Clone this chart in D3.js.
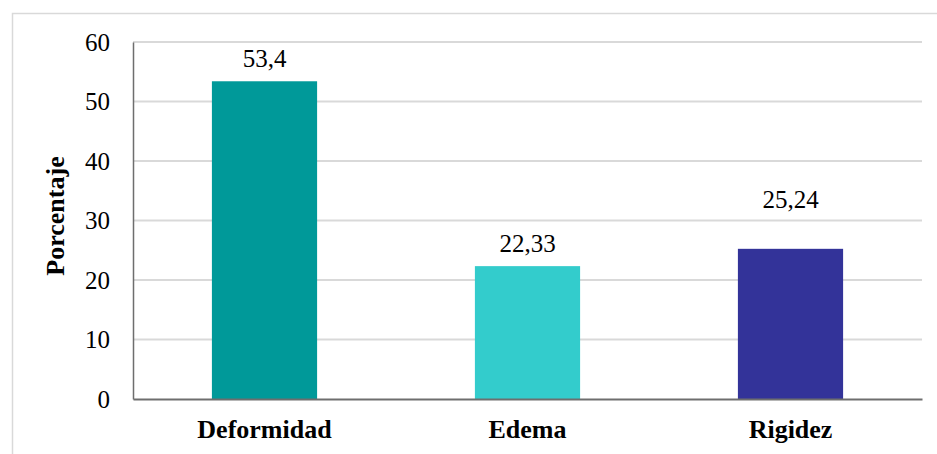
<!DOCTYPE html>
<html>
<head>
<meta charset="utf-8">
<script src="https://cdn.jsdelivr.net/npm/d3@7/dist/d3.min.js"></script>
<style>
  html, body { margin: 0; padding: 0; background: #fff; }
  svg { display: block; }
</style>
</head>
<body>
<svg id="chart" width="937" height="454"></svg>
<script>
// Síntomas articulares: porcentaje por categoría
const categories = ["Deformidad", "Edema", "Rigidez"];
const values = [53.4, 22.33, 25.24];
const valueLabels = ["53,4", "22,33", "25,24"];
const colors = ["#009999", "#33CCCC", "#333399"];
const yTicks = [0, 10, 20, 30, 40, 50, 60];

const FONT = "'Liberation Serif', 'Times New Roman', serif";

const svg = d3.select("#chart").style("font-family", FONT);
const margin = { left: 133, top: 42 };
const plotRight = 922;
const plotBottom = 399;
// distance from bar top to label baseline (the last label sits higher)
const labelGap = { Deformidad: 14, Edema: 14, Rigidez: 41 };

// outer frame of the chart
svg.append("rect")
  .attr("x", 12.5).attr("y", 13.5)
  .attr("width", 940).attr("height", 460)
  .attr("fill", "none").attr("stroke", "#d9d9d9").attr("stroke-width", 1.5);

const x = d3.scaleBand()
  .domain(categories)
  .range([margin.left, plotRight])
  .paddingInner(0.6).paddingOuter(0.3);

const y = d3.scaleLinear().domain([0, 60]).range([plotBottom, margin.top]);

// horizontal gridlines
svg.append("g")
  .selectAll("line")
  .data(yTicks.filter(t => t > 0))
  .join("line")
  .attr("x1", margin.left).attr("x2", plotRight)
  .attr("y1", d => y(d)).attr("y2", d => y(d))
  .attr("stroke", "#d9d9d9").attr("stroke-width", 2);

// bars
svg.append("g")
  .selectAll("rect")
  .data(values)
  .join("rect")
  .attr("x", (d, i) => x(categories[i]))
  .attr("width", x.bandwidth())
  .attr("y", d => y(d))
  .attr("height", d => y(0) - y(d))
  .attr("fill", (d, i) => colors[i]);

// value labels
svg.append("g")
  .selectAll("text")
  .data(values)
  .join("text")
  .attr("x", (d, i) => x(categories[i]) + x.bandwidth() / 2)
  .attr("y", (d, i) => y(d) - labelGap[categories[i]])
  .attr("text-anchor", "middle")
  .style("font-family", FONT)
  .style("font-size", "25px")
  .text((d, i) => valueLabels[i]);

// y axis
const yAxis = d3.axisLeft(y).tickValues(yTicks).tickSize(0).tickPadding(23);
const gy = svg.append("g").attr("transform", `translate(${margin.left},0)`).call(yAxis);
gy.attr("font-family", null).attr("font-size", null);
gy.select(".domain").attr("stroke", "#6e6e6e").attr("stroke-width", 1.5);
gy.selectAll("text")
  .style("font-family", FONT)
  .style("font-size", "25px").attr("fill", "#000");

// x axis
const xAxis = d3.axisBottom(x).tickSize(0).tickPadding(21);
const gx = svg.append("g").attr("transform", `translate(0,${plotBottom})`).call(xAxis);
gx.attr("font-family", null).attr("font-size", null);
gx.select(".domain").attr("stroke", "#6e6e6e").attr("stroke-width", 2);
gx.selectAll("text")
  .style("font-family", FONT)
  .style("font-weight", "bold")
  .style("font-size", "26px").attr("fill", "#000");

// y axis title
svg.append("text")
  .attr("transform", "translate(64,216) rotate(-90)")
  .attr("text-anchor", "middle")
  .style("font-family", FONT)
  .style("font-weight", "bold")
  .style("font-size", "26px")
  .text("Porcentaje");
</script>
</body>
</html>
